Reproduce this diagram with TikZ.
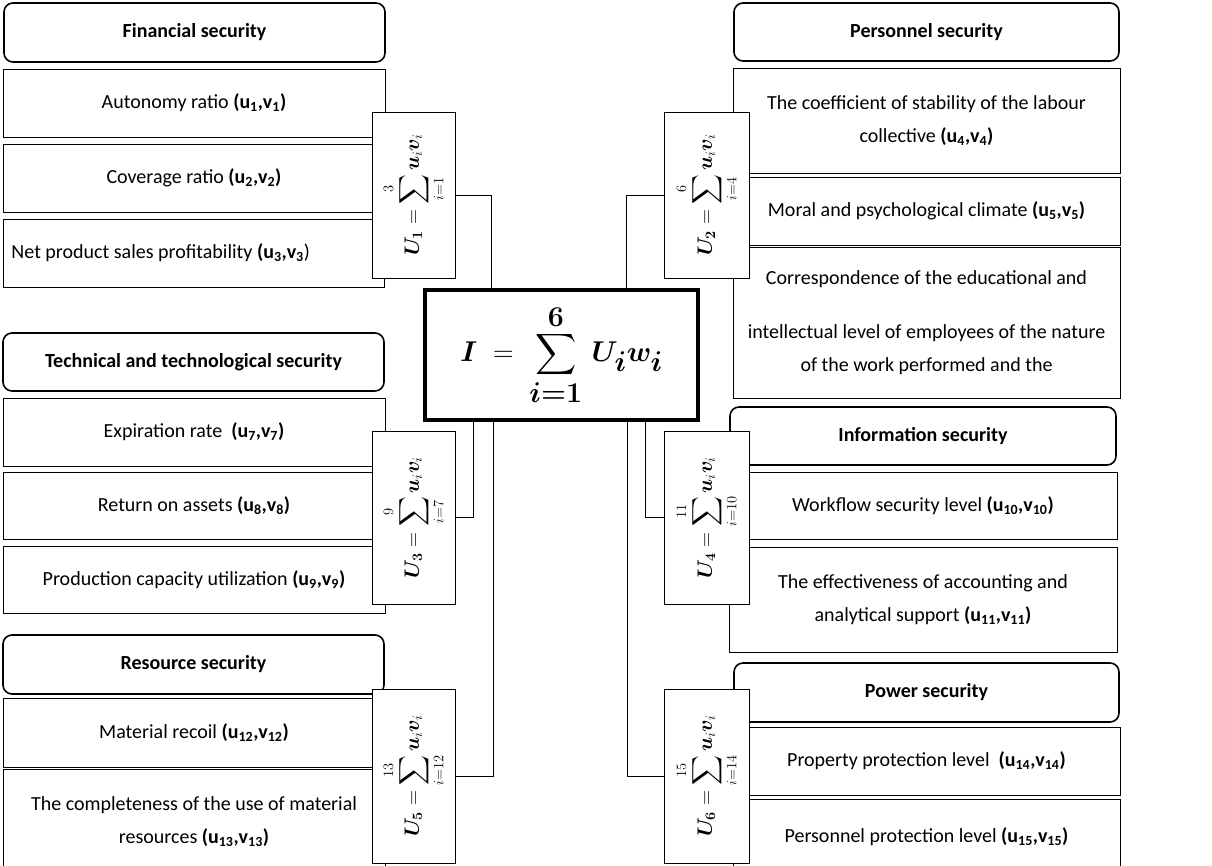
\documentclass[tikz,border=0pt]{standalone}
\usepackage{fontspec}
\setmainfont{Carlito}
\usepackage{amsmath, bm, graphicx}
\usetikzlibrary{calc}
\newcommand{\uv}[1]{\textbf{(u\textsubscript{#1},v\textsubscript{#1})}}
\newcommand{\usum}[3]{\rotatebox{90}{\fontsize{20}{24}\selectfont$\displaystyle \bm{U_{#1}} = \sum_{i=#2}^{#3}\bm{u}_i\bm{v}_i$}}
\newcommand{\itotal}{\scalebox{1.15}{\fontsize{42}{48}\selectfont$\displaystyle\bm{I} \;=\; \sum_{\bm{i=1}}^{\bm{6}}\,\bm{U_i w_i}$}}

\begin{document}
\begin{tikzpicture}[
  x=1pt, y=-1pt,
  hdr/.style={draw, line width=1.6pt, rounded corners=9pt, anchor=north west, inner sep=0pt, outer sep=0pt, font=\bfseries\fontsize{20}{24}\selectfont},
  itm/.style={draw, line width=0.8pt, anchor=north west, inner sep=0pt, outer sep=0pt, align=center, font=\fontsize{20}{33}\selectfont},
  ubox/.style={draw, line width=0.8pt, fill=white, anchor=north west, inner sep=0pt, outer sep=0pt},
  ibox/.style={draw, line width=4.5pt, fill=white, anchor=north west, inner sep=0pt, outer sep=0pt},
  wire/.style={line width=0.8pt}
]
  \useasboundingbox (0,0) rectangle (1212,866);
  \clip (0,0) rectangle (1212,866);

  % headers
  \node[hdr, minimum width=381pt, minimum height=59pt] (fin) at (4,3) {Financial security};
  \node[hdr, minimum width=385pt, minimum height=58pt] (pers) at (734,3) {Personnel security};
  \node[hdr, minimum width=381pt, minimum height=58pt] (tech) at (3,333) {Technical and technological security};
  \node[hdr, minimum width=386pt, minimum height=58pt] (info) at (730,407) {Information security};
  \node[hdr, minimum width=381pt, minimum height=59pt] (res) at (3,635) {Resource security};
  \node[hdr, minimum width=385pt, minimum height=59pt] (pow) at (734,663) {Power security};

  % indicators
  \node[itm, minimum width=382pt, minimum height=68pt] (a1) at (3,69) {Autonomy ratio \uv{1}};
  \node[itm, minimum width=382pt, minimum height=68pt] (a2) at (3,144) {Coverage ratio \uv{2}};
  \node[itm, minimum width=381pt, minimum height=68pt, text width=364pt, align=flush left] (a3) at (3,219)
    {Net product sales profitability \textbf{(u\textsubscript{3},v\textsubscript{3}})};

  \node[itm, minimum width=387pt, minimum height=105pt] (b1) at (733,68)
    {The coefficient of stability of the labour\\collective \uv{4}};
  \node[itm, minimum width=387pt, minimum height=68pt] (b2) at (733,177) {Moral and psychological climate \uv{5}};
  \node[itm, minimum width=387pt, minimum height=151pt] (b3) at (733,247)
    {Correspondence of the educational and\\[21pt]intellectual level of employees of the nature\\of the work performed and the};

  \node[itm, minimum width=382pt, minimum height=68pt] (c1) at (3,398) {Expiration rate \ \uv{7}};
  \node[itm, minimum width=382pt, minimum height=67pt] (c2) at (3,472) {Return on assets \uv{8}};
  \node[itm, minimum width=382pt, minimum height=67pt] (c3) at (3,546) {Production capacity utilization \uv{9}};

  \node[itm, minimum width=388pt, minimum height=67pt] (d1) at (729,472) {Workflow security level \uv{10}};
  \node[itm, minimum width=388pt, minimum height=105pt] (d2) at (729,547)
    {The effectiveness of accounting and\\analytical support \uv{11}};

  \node[itm, minimum width=382pt, minimum height=69pt] (e1) at (3,698) {Material recoil \uv{12}};
  \node[itm, minimum width=382pt, minimum height=106pt] (e2) at (3,769)
    {The completeness of the use of material\\resources \uv{13}};

  \node[itm, minimum width=387pt, minimum height=68pt] (f1) at (733,727) {Property protection level \ \uv{14}};
  \node[itm, minimum width=387pt, minimum height=76pt] (f2) at (733,799) {Personnel protection level \uv{15}};

  % integral index
  \node[ibox, minimum width=273pt, minimum height=130pt] (idx) at (425,290) {\itotal};

  % partial sums
  \node[ubox, minimum width=83pt, minimum height=166pt] (u1) at (372,112) {\usum{1}{1}{3}};
  \node[ubox, minimum width=85pt, minimum height=166pt] (u2) at (664,112) {\usum{2}{4}{6}};
  \node[ubox, minimum width=83pt, minimum height=173pt] (u3) at (372,431) {\usum{3}{7}{9}};
  \node[ubox, minimum width=85pt, minimum height=173pt] (u4) at (664,431) {\usum{4}{10}{11}};
  \node[ubox, minimum width=83pt, minimum height=174pt] (u5) at (372,689) {\usum{5}{12}{13}};
  \node[ubox, minimum width=85pt, minimum height=174pt] (u6) at (664,689) {\usum{6}{14}{15}};

  \draw[wire] (u1.east) -| ($(idx.north west)!0.245!(idx.north east)$);
  \draw[wire] (u2.west) -| ($(idx.north west)!0.736!(idx.north east)$);
  \draw[wire] (u3.east) -| ($(idx.south west)!0.176!(idx.south east)$);
  \draw[wire] (u5.east) -| ($(idx.south west)!0.249!(idx.south east)$);
  \draw[wire] (u4.west) -| ($(idx.south west)!0.806!(idx.south east)$);
  \draw[wire] (u6.west) -| ($(idx.south west)!0.74!(idx.south east)$);
\end{tikzpicture}
\end{document}
